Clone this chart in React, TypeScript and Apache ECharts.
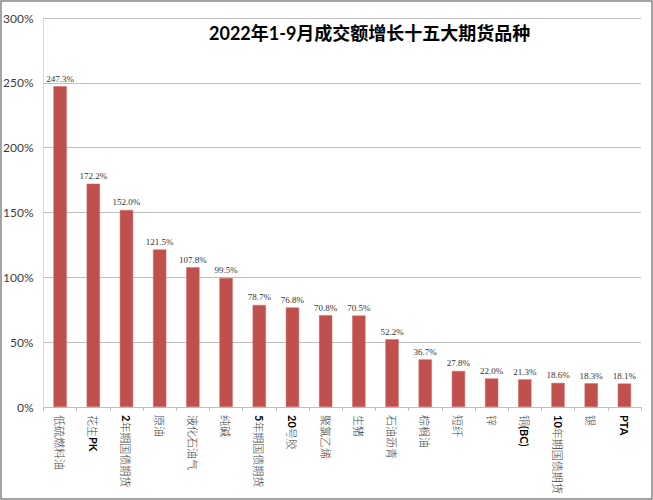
import React, { useEffect, useRef } from "react";
import * as echarts from "echarts";

const categories = [
  "低硫燃料油", "花生PK", "2年期国债期货", "原油", "液化石油气", "纯碱",
  "5年期国债期货", "20号胶", "聚氯乙烯", "生猪", "石油沥青", "棕榈油",
  "短纤", "锌", "铜(BC)", "10年期国债期货", "锡", "PTA",
];
const growthValues = [
  247.3, 172.2, 152.0, 121.5, 107.8, 99.5, 78.7, 76.8, 70.8, 70.5, 52.2, 36.7,
  27.8, 22.0, 21.3, 18.6, 18.3, 18.1,
];
const titleText = "2022年1-9月成交额增长十五大期货品种";

function splitRich(s: string): string {
  const parts = s.match(/[\x00-\x7F]+|[^\x00-\x7F]+/g) || [];
  return parts
    .map((p) => (/^[\x00-\x7F]+$/.test(p) ? `{l|${p}}` : `{c|${p}}`))
    .join("");
}

export default function App() {
  const ref = useRef<HTMLDivElement>(null);
  useEffect(() => {
    if (!ref.current) return;
    const chart = echarts.init(ref.current, undefined, { renderer: "svg" });
    chart.setOption({
      animation: false,
      backgroundColor: "#ffffff",
      title: {
        text: titleText,
        left: 209,
        top: 24,
        padding: 0,
        textStyle: {
          fontSize: 18,
          fontWeight: "bold",
          color: "#000000",
          fontFamily: "Lato, 'Noto Sans CJK SC', sans-serif",
        },
      },
      graphic: [
        {
          type: "rect",
          shape: { x: 1, y: 1, width: 651, height: 498 },
          style: { fill: "none", stroke: "#868686", lineWidth: 1.5 },
          silent: true,
        },
      ],
      grid: { left: 40, right: 12, top: 18, bottom: 93, containLabel: false },
      xAxis: {
        type: "category",
        data: categories,
        axisLine: { show: true, lineStyle: { color: "#bfbfbf", width: 1 } },
        axisTick: { show: true, alignWithLabel: false, length: 4, lineStyle: { color: "#bfbfbf" } },
        axisLabel: {
          interval: 0,
          rotate: -90,
          margin: 8,
          fontSize: 11,
          color: "#000000",
          formatter: (v: string) => splitRich(v),
          rich: {
            l: { fontSize: 11, fontWeight: "bold", fontFamily: "Lato, 'Liberation Sans', sans-serif", color: "#000" },
            c: { fontSize: 11, fontFamily: "'Noto Sans CJK SC', sans-serif", fontWeight: 300, color: "#404040" },
          },
        },
      },
      yAxis: {
        type: "value",
        min: 0,
        max: 300,
        interval: 50,
        axisLine: { show: true, lineStyle: { color: "#d9d9d9" } },
        axisTick: { show: false },
        splitLine: { show: true, lineStyle: { color: "#bfbfbf", width: 1 } },
        axisLabel: {
          formatter: "{value}%",
          margin: 10,
          fontSize: 12,
          color: "#404040",
          fontFamily: "Lato, 'Liberation Sans', sans-serif",
        },
      },
      series: [
        {
          type: "bar",
          data: growthValues,
          barWidth: "40%",
          itemStyle: { color: "#C0504D", borderColor: "#d06a67", borderWidth: 0.5 },
          label: {
            show: true,
            position: "top",
            distance: 3,
            fontSize: 9,
            color: "#333333",
            fontFamily: "'Liberation Serif', serif",
            formatter: (p: any) => Number(p.value).toFixed(1) + "%",
          },
        },
      ],
    });
    return () => chart.dispose();
  }, []);
  return (
    <div
      ref={ref}
      style={{ position: "fixed", left: 0, top: 0, width: 653, height: 500 }}
    />
  );
}
